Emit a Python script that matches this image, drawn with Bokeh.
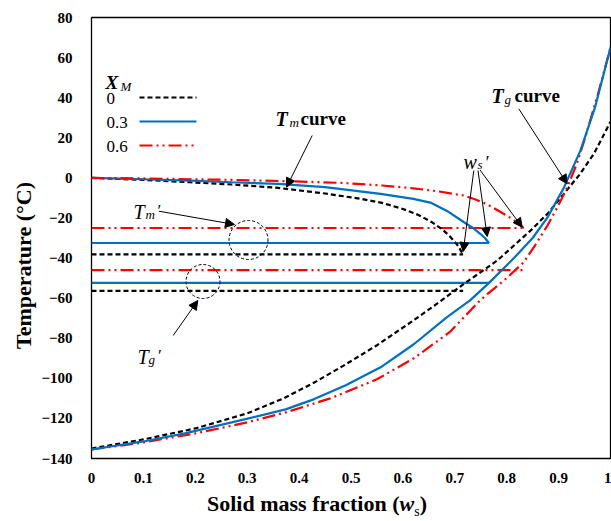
from math import pi
from bokeh.plotting import figure
from bokeh.layouts import column
from bokeh.models import Range1d, FixedTicker, Label, Arrow, NormalHead, Div
from bokeh.embed import file_html
from bokeh.resources import INLINE

# ---------------- data ----------------
xm_labels = ["0", "0.3", "0.6"]
ws_prime = [0.716, 0.766, 0.833]
tm_prime = [-38.2, -32.5, -25.0]
tg_prime = [-56.4, -52.4, -46.0]

tm_x_0 = [0, 0.1, 0.19, 0.27, 0.36, 0.45, 0.52, 0.56, 0.60, 0.63, 0.655, 0.675, 0.69, 0.705, 0.716]
tm_y_0 = [0, -1.0, -2.2, -3.3, -5.0, -7.8, -10.5, -12.5, -15.5, -18.5, -22.0, -25.5, -29.0, -33.5, -38.2]
tm_x_3 = [0, 0.1, 0.19, 0.27, 0.36, 0.45, 0.557, 0.62, 0.655, 0.685, 0.717, 0.735, 0.749, 0.758, 0.766]
tm_y_3 = [0, -0.7, -1.4, -2.2, -3.0, -4.6, -8.0, -10.5, -12.5, -16.5, -22.0, -25.0, -27.9, -30.0, -32.5]
tm_x_6 = [0, 0.1, 0.27, 0.38, 0.48, 0.56, 0.62, 0.67, 0.717, 0.74, 0.761, 0.78, 0.80, 0.818, 0.833]
tm_y_6 = [0, -0.3, -1.0, -1.7, -2.5, -3.8, -5.2, -6.8, -8.8, -10.8, -13.0, -15.8, -18.8, -21.8, -25.0]

tg_x_0 = [0, 0.1, 0.2, 0.3, 0.37, 0.43, 0.49, 0.55, 0.62, 0.67, 0.717, 0.782, 0.846, 0.88, 0.91, 0.94, 0.968, 1.0]
tg_y_0 = [-135, -130.5, -125, -117.5, -110, -102, -93, -83.5, -71.2, -62, -53, -41.2, -26.3, -17.5, -8, 1.5, 12, 28]
tg_x_3 = [0, 0.1, 0.18, 0.27, 0.374, 0.428, 0.49, 0.557, 0.621, 0.685, 0.73, 0.766, 0.814, 0.85, 0.878, 0.91, 0.942, 0.97, 1.0]
tg_y_3 = [-135.5, -131.5, -127.5, -122, -115.5, -110.5, -103.5, -94.5, -83, -69.5, -61, -52.4, -40, -30, -20, -5, 13.6, 35, 65]
tg_x_6 = [0, 0.1, 0.2, 0.3, 0.374, 0.46, 0.55, 0.621, 0.69, 0.749, 0.80, 0.833, 0.855, 0.878, 0.9, 0.917, 0.935, 0.95, 0.975, 1.0]
tg_y_6 = [-135.5, -132, -127.5, -122, -117, -110, -100.5, -90, -77, -61, -50, -42, -33.5, -24, -13.5, -4.5, 7, 19, 41, 65]

x_ticks = [0, 0.1, 0.2, 0.3, 0.4, 0.5, 0.6, 0.7, 0.8, 0.9, 1]
x_tick_labels = ["0", "0.1", "0.2", "0.3", "0.4", "0.5", "0.6", "0.7", "0.8", "0.9", "1"]
y_ticks = [-140, -120, -100, -80, -60, -40, -20, 0, 20, 40, 60, 80]

# ---------------- styles ----------------
colors = ["black", "#0070C0", "#FF0000"]
dashes = ["5 3", "solid", "13 4 2 4 2 4"]
widths = [2.2, 2.2, 2.2]
SERIF = "Liberation Serif"

# page pixel -> data helpers (frame: x 91..610, y 17..458)
def dx(px):
    return (px - 91) / 519.0

def dy(py):
    return 80 - (py - 17) * 220.0 / 441.0

p = figure(frame_width=519, frame_height=441, output_backend="svg", toolbar_location=None,
           x_range=Range1d(0, 1), y_range=Range1d(-140, 80),
           min_border_left=91, min_border_right=1, min_border_top=17, min_border_bottom=34)
p.grid.visible = False
p.outline_line_color = "black"
p.outline_line_width = 1.3
p.background_fill_color = "white"
p.border_fill_color = "white"

for ax in (p.xaxis[0], p.yaxis[0]):
    ax.axis_line_color = None
    ax.major_tick_line_color = None
    ax.minor_tick_line_color = None
    ax.major_tick_out = 0
    ax.major_tick_in = 0
    ax.major_label_text_font = SERIF
    ax.major_label_text_font_style = "bold"
    ax.major_label_text_font_size = "15px"
    ax.major_label_text_color = "black"
p.xaxis[0].ticker = FixedTicker(ticks=x_ticks)
p.xaxis[0].major_label_overrides = {t: s for t, s in zip(x_ticks, x_tick_labels)}
p.xaxis[0].major_label_standoff = 14
p.yaxis[0].ticker = FixedTicker(ticks=y_ticks)
p.yaxis[0].major_label_standoff = 19
p.yaxis[0].axis_label = "Temperature (\u00b0C)" + "\u00a0" * 10
p.yaxis[0].axis_label_text_font = SERIF
p.yaxis[0].axis_label_text_font_style = "bold"
p.yaxis[0].axis_label_text_font_size = "22px"
p.yaxis[0].axis_label_text_color = "black"
p.yaxis[0].axis_label_standoff = 2

# horizontal Tm' and Tg' lines
for i in range(3):
    for tv in (tm_prime[i], tg_prime[i]):
        p.line([0, ws_prime[i]], [tv, tv], line_color=colors[i], line_dash=dashes[i], line_width=widths[i])

# Tm curves
for xs, ys, i in ((tm_x_0, tm_y_0, 0), (tm_x_3, tm_y_3, 1), (tm_x_6, tm_y_6, 2)):
    p.line(xs, ys, line_color=colors[i], line_dash=dashes[i], line_width=widths[i])

# Tg curves
for xs, ys, i in ((tg_x_0, tg_y_0, 0), (tg_x_6, tg_y_6, 2), (tg_x_3, tg_y_3, 1)):
    p.line(xs, ys, line_color=colors[i], line_dash=dashes[i], line_width=widths[i])

# dashed circles
p.scatter([dx(248)], [dy(239.5)], size=39, fill_alpha=0, line_color="black", line_dash="3 2", line_width=1)
p.scatter([dx(202.5)], [dy(281)], size=34, fill_alpha=0, line_color="black", line_dash="3 2", line_width=1)

def lab(px, py, text, size, style="normal", align="left", baseline="alphabetic"):
    p.add_layout(Label(x=dx(px), y=dy(py), text=text, text_font=SERIF, text_font_style=style,
                       text_font_size=size, text_align=align, text_baseline=baseline,
                       text_color="black"))

def arrow(x0, y0, x1, y1):
    p.add_layout(Arrow(end=NormalHead(size=9, fill_color="black", line_color="black"),
                       x_start=dx(x0), y_start=dy(y0), x_end=dx(x1), y_end=dy(y1),
                       line_color="black", line_width=1))

# legend
lab(105, 82, "X", "19px", "bold italic")
lab(120, 86, "M", "13px", "italic")
leg_rows = [97, 121, 145]
for i in range(3):
    ly = dy(leg_rows[i])
    lab(106, leg_rows[i] + 1, xm_labels[i], "17px", "normal", "left", "middle")
    p.line([dx(139), dx(196)], [ly, ly], line_color=colors[i], line_dash=dashes[i], line_width=widths[i])

# Tm curve
lab(275, 118, "T", "20px", "bold italic")
lab(289, 122, "m", "13px", "italic")
lab(300, 118, "curve", "19px", "bold")
arrow(311.7, 135, 286, 186.7)

# Tg curve
lab(491, 95, "T", "20px", "bold italic")
lab(504, 99, "g", "13px", "italic")
lab(514, 95, "curve", "19px", "bold")
arrow(518.3, 108.3, 566.7, 183.3)

# ws'
lab(463, 161, "w", "20px", "italic")
lab(477, 164, "s", "13px", "italic")
lab(484, 162, "\u2032", "18px", "italic")
arrow(473.3, 170, 462.7, 251)
arrow(477.5, 170, 486.7, 236)
arrow(479.5, 169.5, 521.7, 226.7)

# Tm'
lab(133, 211, "T", "20px", "italic")
lab(145, 214, "m", "13px", "italic")
lab(156, 210, "\u2032", "17px", "italic")
arrow(158.3, 210.7, 234, 224)

# Tg'
lab(137, 356, "T", "20px", "italic")
lab(148, 359, "g", "13px", "italic")
lab(156.5, 355, "\u2032", "17px", "italic")
arrow(172.7, 335, 197.3, 300)

# x-axis title (mixed styles) below the figure
xlabel = Div(text='Solid mass fraction (<i>w</i><sub style="font-size:14px;font-weight:normal;line-height:0">s</sub>)',
             width=611, height=24,
             styles={"font-family": SERIF, "font-size": "22px", "font-weight": "bold",
                     "line-height": "24px", "padding-left": "207px", "color": "black",
                     "white-space": "nowrap", "box-sizing": "border-box", "margin": "0"})

layout = column(p, xlabel, spacing=0)
open("out.html", "w").write(file_html(layout, INLINE))
